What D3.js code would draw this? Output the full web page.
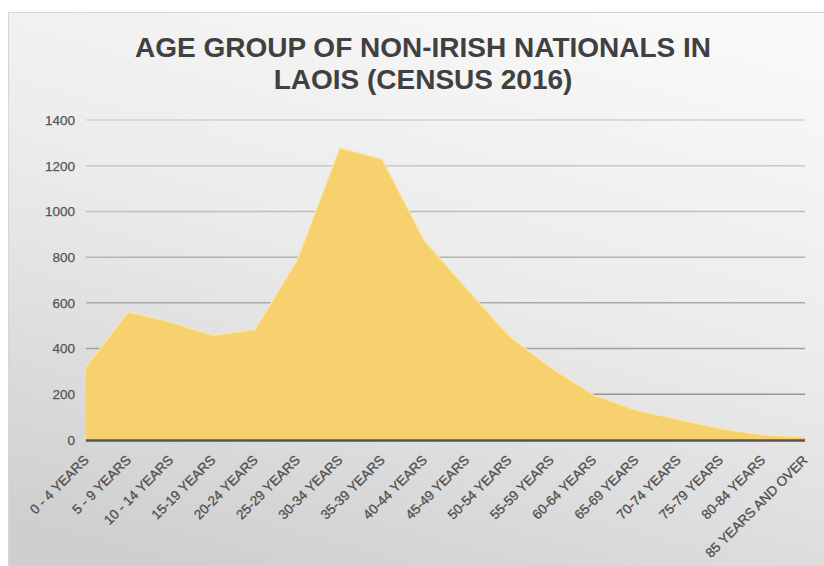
<!DOCTYPE html>
<html>
<head>
<meta charset="utf-8">
<script src="https://cdn.jsdelivr.net/npm/d3@7/dist/d3.min.js"></script>
<style>
html,body{margin:0;padding:0;background:#fff;}
svg{display:block;}
</style>
</head>
<body>
<svg id="chart" width="824" height="566"></svg>
<script>
const categories = ["0 - 4 YEARS","5 - 9 YEARS","10 - 14 YEARS","15-19 YEARS","20-24 YEARS","25-29 YEARS","30-34 YEARS","35-39 YEARS","40-44 YEARS","45-49 YEARS","50-54 YEARS","55-59 YEARS","60-64 YEARS","65-69 YEARS","70-74 YEARS","75-79 YEARS","80-84 YEARS","85 YEARS AND OVER"];
const values = [320,560,515,458,484,790,1278,1228,872,662,455,315,197,130,90,50,22,12];
const yTicks = [0,200,400,600,800,1000,1200,1400];
const titleLines = ["AGE GROUP OF NON-IRISH NATIONALS IN","LAOIS (CENSUS 2016)"];

const svg = d3.select("#chart");
const W = 824, H = 566;
const m = {left:86, right:19, top:120, bottom:126};

const defs = svg.append("defs");
const bg = defs.append("linearGradient").attr("id","bg")
  .attr("x1","70%").attr("y1","0%").attr("x2","30%").attr("y2","100%");
bg.append("stop").attr("offset","0%").attr("stop-color","#f8f8f8");
bg.append("stop").attr("offset","45%").attr("stop-color","#ebebeb");
bg.append("stop").attr("offset","100%").attr("stop-color","#cfcfcf");

svg.append("rect").attr("x",8.5).attr("y",12.5).attr("width",W+10).attr("height",H+10)
  .attr("fill","url(#bg)").attr("stroke","#d6d6d6").attr("stroke-width",1);

const x = d3.scalePoint().domain(categories).range([m.left, W - m.right]);
const y = d3.scaleLinear().domain([0,1400]).range([H - m.bottom, m.top]);

// gridlines
const gridColor = d3.interpolateRgb("#8c8c8c","#d2d2d2");
svg.append("g").selectAll("line").data(yTicks.filter(d=>d>0)).join("line")
  .attr("x1", m.left).attr("x2", W - m.right)
  .attr("y1", d=>y(d)).attr("y2", d=>y(d))
  .attr("stroke", d=>gridColor(d/1400)).attr("stroke-width",1.5);

// area
const area = d3.area().x((d,i)=>x(categories[i])).y0(y(0)).y1(d=>y(d));
svg.append("path").datum(values).attr("d",area).attr("fill","#f6d16e");
const line = d3.line().x((d,i)=>x(categories[i])).y(d=>y(d));
svg.append("path").datum(values).attr("d",line).attr("fill","none")
  .attr("stroke","#fbe6a2").attr("stroke-width",1.2);

// x axis line
svg.append("line").attr("x1",m.left).attr("x2",W-m.right)
  .attr("y1",y(0)+0.5).attr("y2",y(0)+0.5).attr("stroke","#555").attr("stroke-width",2.5);

// y axis labels
const yAxis = d3.axisLeft(y).tickValues(yTicks).tickFormat(d3.format("d")).tickSize(0).tickPadding(11);
const gy = svg.append("g").attr("transform",`translate(${m.left},0)`).call(yAxis);
gy.select(".domain").remove();
gy.selectAll("text").attr("font-family","'Liberation Sans', Arial, sans-serif")
  .attr("font-size","13.5px").attr("fill","#555")
  .attr("stroke","#555").attr("stroke-width",0.25);

// x axis labels
const xAxis = d3.axisBottom(x).tickSize(0).tickPadding(0);
const gx = svg.append("g").attr("transform",`translate(0,${y(0)})`).call(xAxis);
gx.select(".domain").remove();
gx.selectAll("text")
  .attr("font-family","'Liberation Sans', Arial, sans-serif")
  .attr("font-size","13.5px").attr("fill","#505050")
  .attr("stroke","#505050").attr("stroke-width",0.3)
  .attr("text-anchor","end").attr("dy",null).attr("y",null)
  .attr("transform","translate(3,21) rotate(-45)");

// title
svg.append("g").selectAll("text").data(titleLines).join("text")
  .attr("x",423).attr("y",(d,i)=>57 + i*31.6)
  .attr("text-anchor","middle")
  .attr("font-family","'Liberation Sans', Arial, sans-serif")
  .attr("font-weight","bold").attr("font-size","28px").attr("fill","#404040")
  .text(d=>d);
</script>
</body>
</html>
